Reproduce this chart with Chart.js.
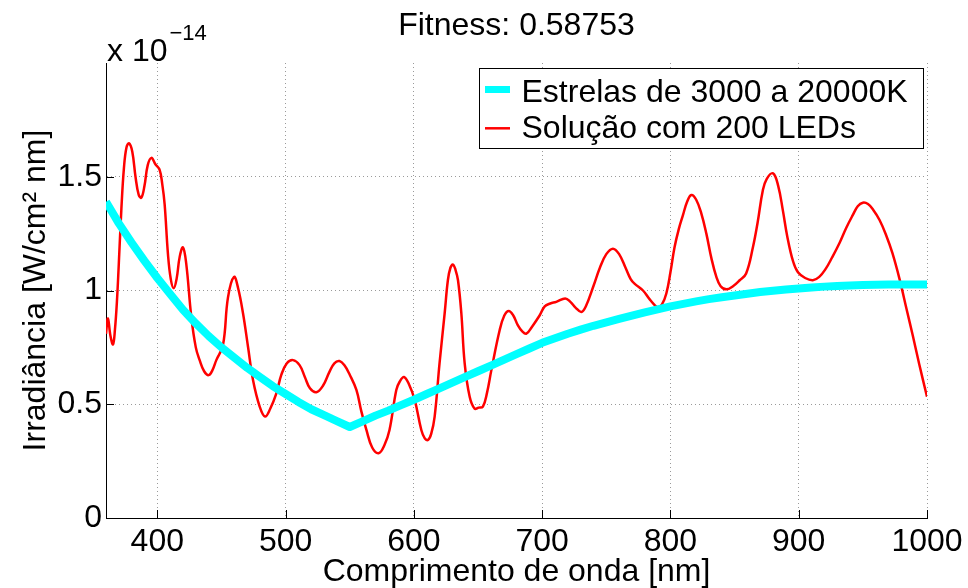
<!DOCTYPE html>
<html><head><meta charset="utf-8">
<script src="https://cdn.jsdelivr.net/npm/chart.js@4.4.0/dist/chart.umd.min.js"></script>
<style>html,body{margin:0;padding:0;background:#fff;overflow:hidden}canvas{display:block}</style>
</head><body>
<canvas id="c" width="968" height="588"></canvas>
<script>
const titleText = 'Fitness: 0.58753';
const xAxisTitle = 'Comprimento de onda [nm]';
const yAxisTitle = 'Irradiância [W/cm² nm]';
const exponentBase = 'x 10';
const exponentPower = '\u221214';
const xTickValues = [400, 500, 600, 700, 800, 900, 1000];
const yTickValues = [0, 0.5, 1, 1.5];
const starsLabel = 'Estrelas de 3000 a 20000K';
const ledsLabel = 'Solução com 200 LEDs';

const starsX = [360,370,380,390,400,410,420,430,440,450,
  460,470,480,490,500,510,520,530,540,550,
  560,570,580,590,600,610,620,630,640,650,
  660,670,680,690,700,710,720,730,740,750,
  760,770,780,790,800,810,820,830,840,850,
  860,870,880,890,900,910,920,930,940,950,
  960,970,980,990,1000];
const starsY = [1.39,1.295,1.21,1.13,1.055,0.985,0.915,0.855,0.80,0.75,
  0.705,0.66,0.62,0.58,0.545,0.51,0.478,0.452,0.426,0.40,
  0.425,0.45,0.472,0.496,0.52,0.545,0.57,0.595,0.62,0.645,
  0.67,0.695,0.72,0.745,0.77,0.79,0.81,0.828,0.845,0.86,
  0.875,0.89,0.904,0.917,0.93,0.941,0.952,0.962,0.97,0.978,
  0.986,0.993,0.999,1.004,1.009,1.013,1.017,1.02,1.022,1.024,
  1.025,1.026,1.026,1.026,1.026];

const ledsX = [360,361.5,363.5,365.5,367,368.5,370,372,374,376,
  378,380.5,383,385.5,387.6,390,392.5,395.4,398.5,401.8,
  403.8,405.7,408.3,410.5,412.8,415,417.5,420,422.5,426.5,
  430,433,436.5,440,443,446,451.2,455.1,459.8,463,
  466.8,470.7,474.6,479.8,484,488,492.8,496.7,501,505.8,
  510.9,515,519,524,529,534,538,542,546,550,
  555.2,559,563,567.5,572.5,577,581,586.3,589,592.3,
  596,600.6,605.8,608.5,611,613.5,616.2,620,624,626.5,
  628.5,630.5,632.5,634.4,637,639.6,643.5,647.4,650.5,653.8,
  657,660.4,666.9,670.5,674,677.5,681,684.5,687.7,692,
  698,702,706.3,711,718,722,726,730.5,734,740,
  745,750,755.2,760,765,769,772,778.6,784,790.3,
  793.5,796.8,800,803.2,806.5,809.7,813,816.3,820,824,
  828,832,835.8,839,843.6,849,854,859,864.3,868,
  872,875,880,884,887.7,891,895.5,899.4,905,911,
  916,921,926,931.9,937,942,946,950,954,958,
  963,968,973,978.6,984,989,994,1000];
const ledsY = [0.81,0.877,0.80,0.763,0.83,0.95,1.12,1.36,1.54,1.63,
  1.647,1.61,1.50,1.42,1.408,1.46,1.55,1.583,1.555,1.53,
  1.47,1.38,1.16,1.05,1.01,1.05,1.15,1.19,1.12,0.884,
  0.75,0.694,0.645,0.628,0.65,0.694,0.76,0.97,1.06,1.01,
  0.90,0.753,0.607,0.49,0.446,0.48,0.548,0.63,0.68,0.694,
  0.672,0.62,0.57,0.553,0.58,0.64,0.68,0.69,0.67,0.63,
  0.563,0.47,0.387,0.31,0.285,0.32,0.387,0.563,0.60,0.62,
  0.59,0.52,0.387,0.35,0.343,0.37,0.446,0.68,0.90,1.045,
  1.10,1.114,1.09,1.045,0.90,0.68,0.533,0.48,0.485,0.49,
  0.55,0.65,0.826,0.89,0.91,0.89,0.848,0.82,0.81,0.84,
  0.89,0.93,0.943,0.95,0.965,0.95,0.925,0.906,0.93,1.02,
  1.10,1.16,1.184,1.16,1.10,1.05,1.03,1.0,0.96,0.925,
  0.94,0.987,1.08,1.19,1.27,1.33,1.39,1.42,1.40,1.34,
  1.25,1.14,1.06,1.02,1.005,1.02,1.045,1.075,1.19,1.30,
  1.44,1.49,1.515,1.46,1.35,1.24,1.13,1.08,1.055,1.045,
  1.06,1.095,1.145,1.21,1.275,1.33,1.37,1.386,1.38,1.355,
  1.31,1.245,1.165,1.05,0.92,0.80,0.675,0.533];

const FAMILY = "'Liberation Sans', Arial, Helvetica, sans-serif";
const GRID = '#9a9a9a';

const inwardTicks = {
  id: 'inwardTicks',
  afterDraw(chart) {
    const {ctx, chartArea: a, scales: {x, y}} = chart;
    ctx.save();
    ctx.strokeStyle = '#000';
    ctx.lineWidth = 1;
    ctx.beginPath();
    x.ticks.forEach(t => {
      const px = Math.round(x.getPixelForValue(t.value)) + 0.5;
      ctx.moveTo(px, a.bottom); ctx.lineTo(px, a.bottom - 8);
    });
    y.ticks.forEach(t => {
      const py = Math.round(y.getPixelForValue(t.value)) + 0.5;
      ctx.moveTo(a.left, py); ctx.lineTo(a.left + 8, py);
    });
    ctx.stroke();
    ctx.restore();
  }
};

const extras = {
  id: 'extras',
  afterDraw(chart) {
    const ctx = chart.ctx;
    const a = chart.chartArea;
    const ds = chart.data.datasets;
    ctx.save();
    ctx.fillStyle = '#000';
    ctx.textBaseline = 'alphabetic';
    ctx.textAlign = 'left';
    ctx.font = '32px ' + FAMILY;
    ctx.fillText(exponentBase, a.left + 1, 61);
    const w = ctx.measureText(exponentBase).width;
    ctx.font = '22px ' + FAMILY;
    ctx.fillText(exponentPower, a.left + 1 + w + 2, 40);
    const bx = 479.5, by = 68.5, bw = 444, bh = 80;
    ctx.fillStyle = '#fff';
    ctx.fillRect(bx, by, bw, bh);
    ctx.strokeStyle = '#000';
    ctx.lineWidth = 1;
    ctx.strokeRect(bx, by, bw, bh);
    const rows = [89.5, 128.3];
    const bases = [101.7, 138.3];
    const widths = [7, 2.5];
    ds.forEach((d, i) => {
      ctx.strokeStyle = d.borderColor;
      ctx.lineWidth = widths[i];
      ctx.beginPath();
      ctx.moveTo(485, rows[i]); ctx.lineTo(510, rows[i]);
      ctx.stroke();
      ctx.fillStyle = '#000';
      ctx.font = '32px ' + FAMILY;
      ctx.fillText(d.label, 521.5, bases[i]);
    });
    ctx.restore();
  }
};

new Chart(document.getElementById('c'), {
  type: 'line',
  data: {
    datasets: [
      {
        label: starsLabel,
        data: starsX.map((v, i) => ({x: v, y: starsY[i]})),
        borderColor: '#00ffff',
        borderWidth: 8,
        borderJoinStyle: 'round',
        pointRadius: 0,
        tension: 0,
        fill: false,
        clip: 0
      },
      {
        label: ledsLabel,
        data: ledsX.map((v, i) => ({x: v, y: ledsY[i]})),
        borderColor: '#ff0000',
        borderWidth: 2.5,
        borderJoinStyle: 'round',
        pointRadius: 0,
        tension: 0.4,
        fill: false,
        clip: 0
      }
    ]
  },
  options: {
    responsive: false,
    animation: false,
    devicePixelRatio: 1,
    events: [],
    layout: {padding: {left: 0, right: 41, top: 0, bottom: 0}},
    plugins: {
      legend: {display: false},
      tooltip: {enabled: false},
      title: {
        display: true,
        text: titleText,
        fullSize: false,
        color: '#000',
        font: {family: FAMILY, size: 32, weight: 'normal', lineHeight: 1.2},
        padding: {top: 7, bottom: 17.6}
      }
    },
    scales: {
      x: {
        type: 'linear',
        min: 360,
        max: 1000,
        afterBuildTicks: s => { s.ticks = xTickValues.map(v => ({value: v})); },
        afterFit: s => { s.height = 70; },
        ticks: {padding: 5, color: '#000', maxRotation: 0, autoSkip: false,
          font: {family: FAMILY, size: 32}, callback: v => String(v)},
        grid: {color: GRID, lineWidth: 1, drawTicks: false},
        border: {display: true, color: '#000', width: 1, dash: [1, 3]},
        title: {display: true, text: xAxisTitle, color: '#000',
          font: {family: FAMILY, size: 32, lineHeight: 1}, padding: {top: 0, bottom: 0}}
      },
      y: {
        type: 'linear',
        min: 0,
        max: 2,
        afterBuildTicks: s => { s.ticks = yTickValues.map(v => ({value: v})); },
        afterFit: s => { s.width = 106; },
        ticks: {padding: 4, color: '#000', font: {family: FAMILY, size: 32}, callback: v => String(v)},
        grid: {color: GRID, lineWidth: 1, drawTicks: false},
        border: {display: true, color: '#000', width: 1, dash: [1, 3]},
        title: {display: true, text: yAxisTitle, color: '#000',
          font: {family: FAMILY, size: 32, lineHeight: 1.2}, padding: {top: 17, bottom: 0}}
      }
    }
  },
  plugins: [inwardTicks, extras]
});
</script>
</body></html>
